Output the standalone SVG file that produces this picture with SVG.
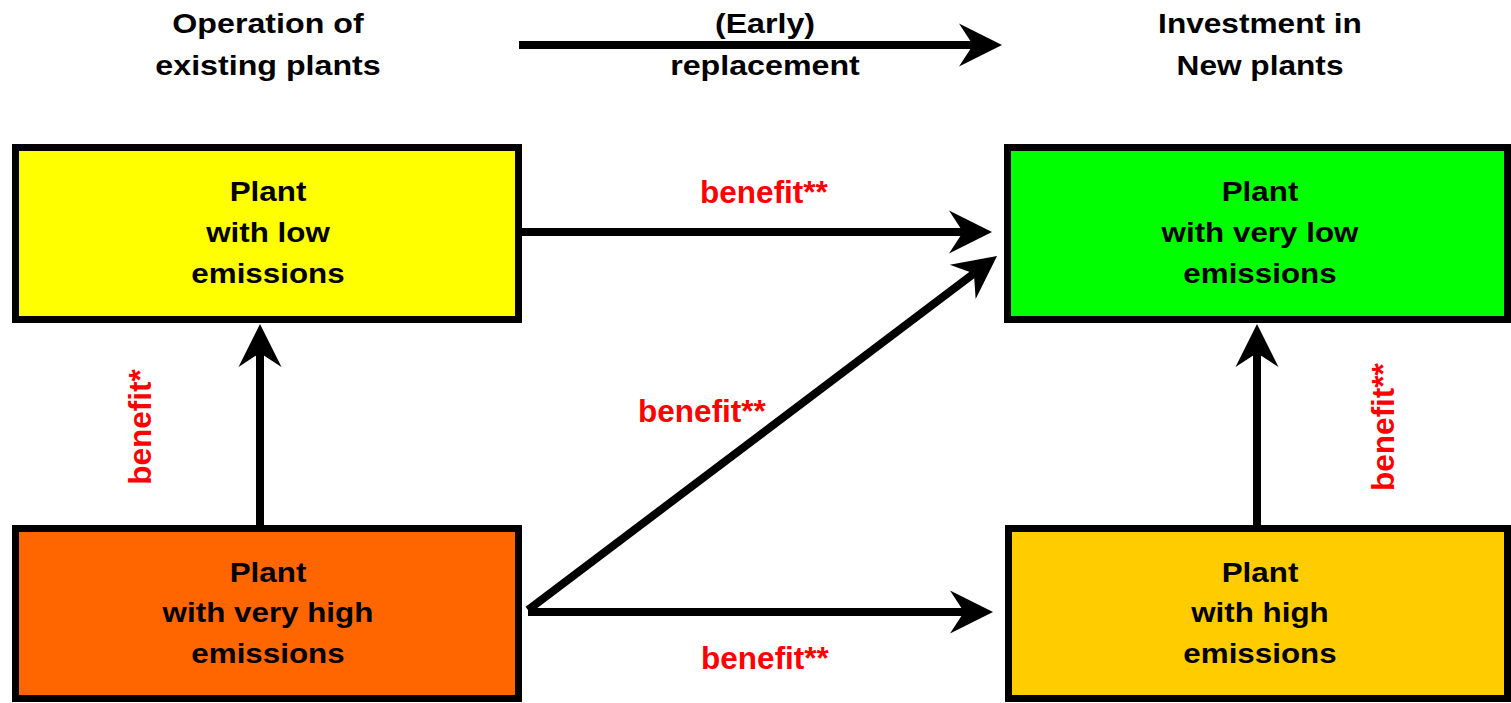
<svg xmlns="http://www.w3.org/2000/svg" width="1511" height="703" viewBox="0 0 1511 703">
<style>
.box{stroke:#000;stroke-width:7}
.bt{font-family:"Liberation Sans",Arial,sans-serif;font-weight:bold;font-size:28px;fill:#000;text-anchor:middle}
.tt{font-family:"Liberation Sans",Arial,sans-serif;font-weight:bold;font-size:28.5px;fill:#000;text-anchor:middle}
.lbl{font-family:"Liberation Sans",Arial,sans-serif;font-weight:bold;font-size:31.5px;fill:#ff0000;text-anchor:middle}
.con{stroke:#000;stroke-width:8;fill:none;marker-end:url(#ah)}
</style>
<defs>
<marker id="ah" markerUnits="userSpaceOnUse" viewBox="-44 -23 46 46" markerWidth="46" markerHeight="46" refX="-29" refY="0" orient="auto">
<path d="M0,0 L-43,-21.5 L-29,0 L-43,21.5 Z" fill="#000"/>
</marker>
</defs>
<rect width="1511" height="703" fill="#fff"/>
<g id="headers">
<g transform="translate(268,0) scale(1.13,1)"><text class="tt" x="0" y="33">Operation of</text><text class="tt" x="0" y="75">existing plants</text></g>
<g transform="translate(765,0) scale(1.13,1)"><text class="tt" x="0" y="33">(Early)</text><text class="tt" x="0" y="75">replacement</text></g>
<g transform="translate(1260,0) scale(1.11,1)"><text class="tt" x="0" y="33">Investment in</text><text class="tt" x="0" y="75">New plants</text></g>
</g>
<g id="connectors">
<line class="con" x1="519" y1="45" x2="973" y2="45"/>
<line class="con" x1="522" y1="232" x2="963" y2="232"/>
<line class="con" x1="528" y1="612" x2="964" y2="612"/>
<line class="con" x1="528" y1="610" x2="973.9" y2="273.5"/>
<line class="con" x1="260" y1="525" x2="260" y2="353"/>
<line class="con" x1="1257" y1="525" x2="1257" y2="353"/>
</g>
<g id="labels">
<text class="lbl" x="764" y="203">benefit**</text>
<text class="lbl" x="702" y="422">benefit**</text>
<text class="lbl" x="765" y="669">benefit**</text>
<text class="lbl" transform="translate(151,427) rotate(-90)" x="0" y="0">benefit*</text>
<text class="lbl" transform="translate(1394,427) rotate(-90)" x="0" y="0">benefit**</text>
</g>
<g id="node-low">
<rect class="box" x="15.5" y="147.5" width="503" height="172" fill="#ffff00"/>
<g transform="translate(268,0) scale(1.12,1)"><text class="bt" x="0" y="201">Plant</text><text class="bt" x="0" y="242">with low</text><text class="bt" x="0" y="283">emissions</text></g>
</g>
<g id="node-very-low">
<rect class="box" x="1007.5" y="147.5" width="500" height="172" fill="#00ff00"/>
<g transform="translate(1260,0) scale(1.12,1)"><text class="bt" x="0" y="201">Plant</text><text class="bt" x="0" y="242">with very low</text><text class="bt" x="0" y="283">emissions</text></g>
</g>
<g id="node-very-high">
<rect class="box" x="15.5" y="528.5" width="503" height="170" fill="#ff6600"/>
<g transform="translate(268,0) scale(1.12,1)"><text class="bt" x="0" y="582">Plant</text><text class="bt" x="0" y="622">with very high</text><text class="bt" x="0" y="663">emissions</text></g>
</g>
<g id="node-high">
<rect class="box" x="1008.5" y="528.5" width="499" height="170" fill="#ffcc00"/>
<g transform="translate(1260,0) scale(1.12,1)"><text class="bt" x="0" y="582">Plant</text><text class="bt" x="0" y="622">with high</text><text class="bt" x="0" y="663">emissions</text></g>
</g>
</svg>
